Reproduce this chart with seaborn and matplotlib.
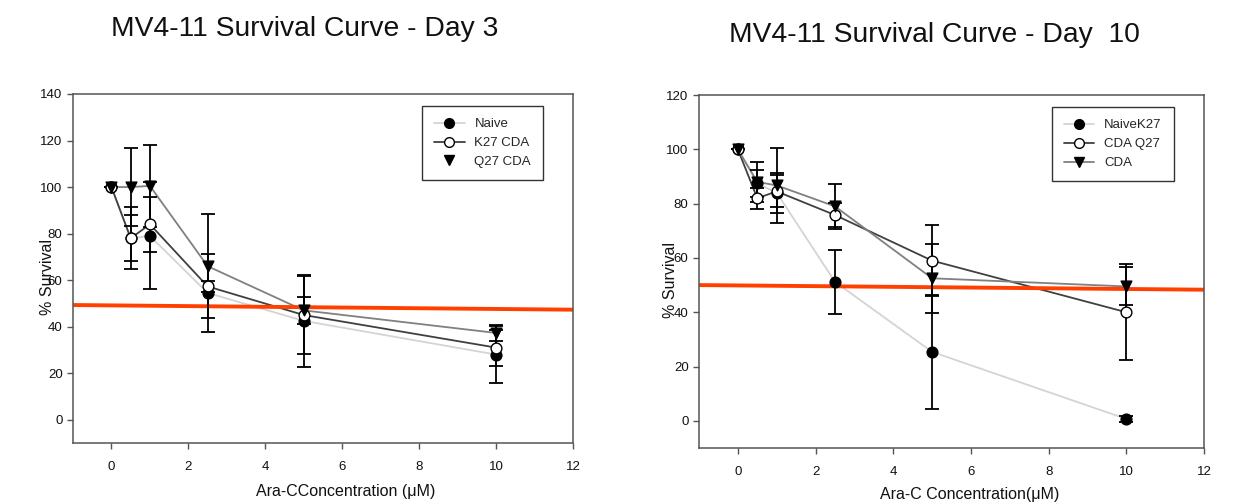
import numpy as np
import pandas as pd
import matplotlib
matplotlib.use("Agg")
import matplotlib.pyplot as plt
from matplotlib.lines import Line2D
import seaborn as sns

# ---------------- data ----------------
conc = [0, 0.5, 1, 2.5, 5, 10]

# Day 3
d3_naive = [100, 78, 79, 54.5, 42.5, 28]
d3_naive_err = [0, 13.3, 23, 16.9, 19.9, 12.3]
d3_k27 = [100, 78, 84, 57.3, 45, 31]
d3_k27_err = [0, 9.8, 11.7, 2.5, 16.8, 7.7]
d3_q27 = [100, 100, 100.5, 66, 47, 37.3]
d3_q27_err = [0, 16.7, 17.6, 22.3, 5.8, 3.4]
d3_threshold_x = [-1, 12]
d3_threshold_y = [49.3, 47.3]
d3_labels = ["Naive", "K27 CDA", "Q27 CDA"]

# Day 10
d10_naive = [100, 87.5, 84, 51.2, 25.4, 0.7]
d10_naive_err = [0, 5.0, 7.3, 11.8, 20.9, 1.0]
d10_q27 = [100, 82, 84.5, 75.8, 59, 40]
d10_q27_err = [0, 3.8, 5.9, 4.5, 13, 17.6]
d10_cda = [100, 88, 86.7, 79, 52.5, 49.5]
d10_cda_err = [0, 7.4, 13.9, 8.3, 12.7, 7.0]
d10_threshold_x = [-1, 12]
d10_threshold_y = [50.0, 48.3]
d10_labels = ["NaiveK27", "CDA Q27", "CDA"]

yticks_d3 = [0, 20, 40, 60, 80, 100, 120, 140]
yticks_d10 = [0, 20, 40, 60, 80, 100, 120]
xticks = [0, 2, 4, 6, 8, 10, 12]

# ---------------- style ----------------
sns.set_style("white")
plt.rcParams["font.family"] = ["Liberation Sans", "DejaVu Sans"]

FONT = "Liberation Sans"
LIGHT = "#d4d4d4"
DARK = "#404040"
MID = "#808080"
RED = "#ff4000"
SPINE = "#555555"

fig = plt.figure(figsize=(12.4, 5.04), dpi=100)
fig.patch.set_facecolor("white")

ax1 = fig.add_axes([73 / 1240, 61 / 504, 500 / 1240, 349 / 504])
ax2 = fig.add_axes([699 / 1240, 56 / 504, 505 / 1240, 353 / 504])


def draw(ax, series, threshold_x, threshold_y, ylim, yticks):
    for vals, errs, lc, marker, mfc, label in series:
        df = pd.DataFrame({"x": conc, "y": vals})
        sns.lineplot(data=df, x="x", y="y", ax=ax, color=lc, linewidth=1.3,
                     marker=None, zorder=2, legend=False)
    tdf = pd.DataFrame({"x": threshold_x, "y": threshold_y})
    sns.lineplot(data=tdf, x="x", y="y", ax=ax, color=RED, linewidth=2.8,
                 zorder=2.5, legend=False)
    for vals, errs, lc, marker, mfc, label in series:
        ax.errorbar(conc, vals, yerr=errs, fmt="none", ecolor="black",
                    elinewidth=1.3, capsize=5, capthick=1.3, zorder=3)
        sns.scatterplot(x=conc, y=vals, ax=ax, marker=marker, s=60,
                        color=mfc, edgecolor="black", linewidth=1.0,
                        zorder=4, legend=False)
    ax.set_xlim(-1, 12)
    ax.set_ylim(*ylim)
    ax.set_xticks(xticks)
    ax.set_yticks(yticks)
    ax.tick_params(axis="both", which="both", direction="out", length=4,
                   width=1, colors=SPINE, labelcolor="#111111", labelsize=9.5,
                   left=True, bottom=True)
    ax.tick_params(axis="x", pad=9)
    for sp in ax.spines.values():
        sp.set_color(SPINE)
        sp.set_linewidth(1.1)
        sp.set_visible(True)
    ax.set_facecolor("white")


draw(ax1,
     [(d3_naive, d3_naive_err, LIGHT, "o", "black", d3_labels[0]),
      (d3_k27, d3_k27_err, DARK, "o", "white", d3_labels[1]),
      (d3_q27, d3_q27_err, MID, "v", "black", d3_labels[2])],
     d3_threshold_x, d3_threshold_y, (-10, 140), yticks_d3)

draw(ax2,
     [(d10_naive, d10_naive_err, LIGHT, "o", "black", d10_labels[0]),
      (d10_q27, d10_q27_err, DARK, "o", "white", d10_labels[1]),
      (d10_cda, d10_cda_err, MID, "v", "black", d10_labels[2])],
     d10_threshold_x, d10_threshold_y, (-10, 120), yticks_d10)

# labels
for ax, xl, xlx, xly, ylx, yly in [
        (ax1, "Ara-CConcentration (\u03bcM)", 0.546, -0.117, -0.036, 0.475),
        (ax2, "Ara-C Concentration(\u03bcM)", 0.537, -0.11, -0.042, 0.475)]:
    ax.set_xlabel(xl, fontsize=11.5, color="#111111", family=FONT)
    ax.set_ylabel("% Survival", fontsize=11.5, color="#111111", family=FONT)
    ax.xaxis.set_label_coords(xlx, xly)
    ax.yaxis.set_label_coords(ylx, yly)

fig.text(305 / 1240, 1 - 29 / 504, "MV4-11 Survival Curve - Day 3",
         ha="center", va="center", fontsize=20.3, family=FONT, color="#111111")
fig.text(934 / 1240, 1 - 35 / 504, "MV4-11 Survival Curve - Day  10",
         ha="center", va="center", fontsize=20.3, family=FONT, color="#111111")

# legends
def make_legend(ax, labels, show_last_line):
    handles = [
        Line2D([], [], color=LIGHT, marker="o", markerfacecolor="black",
               markeredgecolor="black", markersize=7, linewidth=1.3),
        Line2D([], [], color=DARK, marker="o", markerfacecolor="white",
               markeredgecolor="black", markersize=7, linewidth=1.3),
        Line2D([], [], color=MID if show_last_line else "none", marker="v",
               markerfacecolor="black", markeredgecolor="black",
               markersize=7, linewidth=1.3),
    ]
    leg = ax.legend(handles, labels, loc="upper right",
                    bbox_to_anchor=(0.94, 0.965), borderaxespad=0,
                    frameon=True, fancybox=False,
                    edgecolor="black", handlelength=2.3,
                    borderpad=0.9, labelspacing=0.5, handletextpad=0.75,
                    prop={"family": FONT, "size": 9.5})
    leg.get_frame().set_linewidth(1.0)


make_legend(ax1, d3_labels, False)
make_legend(ax2, d10_labels, True)

fig.savefig("out.png", dpi=100, facecolor="white")
